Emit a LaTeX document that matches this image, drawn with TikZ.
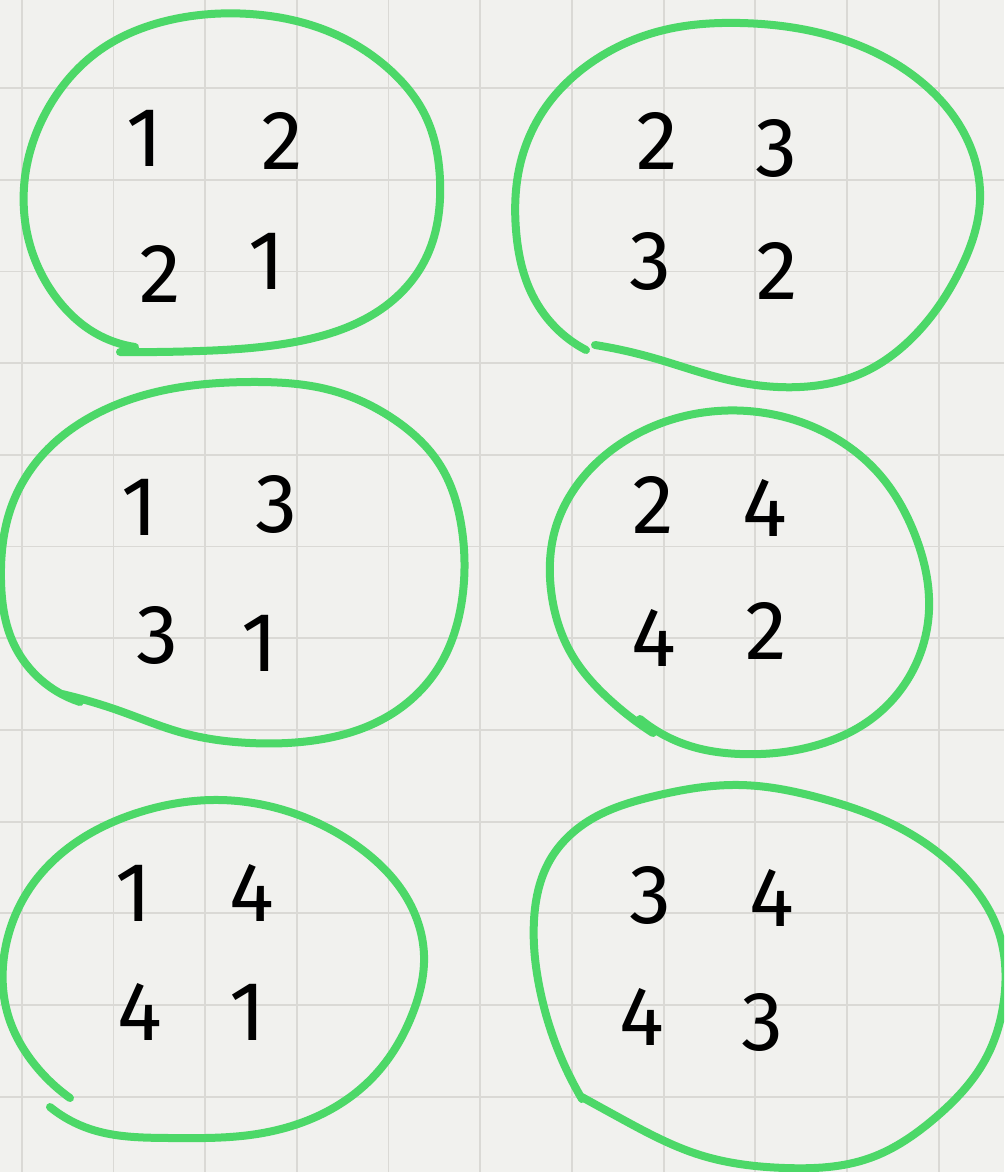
\documentclass[tikz,border=0pt]{standalone}
\usepackage{fontspec}
\setmainfont{Fira Sans}
\usetikzlibrary{hobby}
\definecolor{paper}{HTML}{F1F1EE}
\definecolor{gridc}{HTML}{DAD9D5}
\definecolor{loopg}{HTML}{4CD868}
\tikzset{
  loopline/.style={draw=loopg, line width=8pt, line cap=round, line join=round, use Hobby shortcut},
  digit/.style={text=black, inner sep=0pt, font=\fontsize{84}{84}\selectfont},
}
\begin{document}
\begin{tikzpicture}[x=1pt,y=-1pt]
\useasboundingbox (0,0) rectangle (1004,1172);
\clip (0,0) rectangle (1004,1172);
\fill[paper] (0,0) rectangle (1004,1172);
% grid
\foreach \k in {0,...,10} {\draw[gridc, line width=1.8pt] ({21.7+91.7*\k},0) -- ({21.7+91.7*\k},1172);}
\foreach \k in {0,...,11} {\draw[gridc, line width=1.8pt] (0,{88+91.7*\k}) -- (1004,{88+91.7*\k});}
% loops
\draw[loopline] (120,352) .. (200,351) .. (300,341) .. (380,310) .. (425,260) .. (440,180) .. (425,115) .. (390,70) .. (330,32) .. (250,14) .. (170,20) .. (100,50) .. (50,105) .. (26,170) .. (30,245) .. (58,300) .. (95,333) .. (135,347);
\draw[loopline] (595,345) .. (650,357) .. (733,381) .. (800,387) .. (860,374) .. (915,335) .. (960,270) .. (980,200) .. (965,135) .. (925,85) .. (850,42) .. (740,23) .. (660,31) .. (595,60) .. (548,104) .. (520,165) .. (516,230) .. (530,290) .. (555,327) .. (586,350);
\draw[loopline] (80,702) .. (40,679) .. (12,640) .. (1,580) .. (12,505) .. (45,452) .. (100,412) .. (170,389) .. (250,382) .. (330,390) .. (395,420) .. (440,465) .. (462,530) .. (462,600) .. (440,665) .. (390,715) .. (317,740) .. (250,743) .. (183,733) .. (120,711) .. (62,694);
\draw[loopline] (653,733) .. (610,700) .. (572,655) .. (551,590) .. (555,530) .. (585,475) .. (635,435) .. (700,413) .. (765,413) .. (830,435) .. (880,475) .. (915,535) .. (929,610) .. (912,672) .. (870,720) .. (810,747) .. (740,754) .. (690,746) .. (640,719);
\draw[loopline] (50,1107) .. (90,1129) .. (170,1138) .. (250,1135) .. (320,1115) .. (375,1075) .. (412,1015) .. (424,955) .. (405,895) .. (360,848) .. (290,812) .. (220,800) .. (140,812) .. (75,843) .. (30,888) .. (5,950) .. (8,1015) .. (35,1065) .. (70,1098);
\draw[loopline] (582,1099) .. (560,1055) .. (540,990) .. (534,920) .. (550,860) .. (590,820) .. (655,796) .. (740,785) .. (820,798) .. (900,828) .. (960,872) .. (998,930) .. (1004,1000) .. (985,1060) .. (935,1118) .. (870,1158) .. (785,1168) .. (700,1155) .. (620,1118) .. (580,1096);
% digits
\node[digit] (a11) at (145,138) {1};
\node[digit] (a12) at (282,141) {2};
\node[digit] (a21) at (160,274) {2};
\node[digit] (a22) at (267,261) {1};
\node[digit] (b11) at (657,141) {2};
\node[digit] (b12) at (776,148) {3};
\node[digit] (b21) at (650,261) {3};
\node[digit] (b22) at (777,271) {2};
\node[digit] (c11) at (140,507) {1};
\node[digit] (c12) at (276,504) {3};
\node[digit] (c21) at (157,635) {3};
\node[digit] (c22) at (260,643) {1};
\node[digit] (d11) at (653,505) {2};
\node[digit] (d12) at (765,508) {4};
\node[digit] (d21) at (654,638) {4};
\node[digit] (d22) at (766,631) {2};
\node[digit] (e11) at (134,893) {1};
\node[digit] (e12) at (252,893) {4};
\node[digit] (e21) at (140,1012) {4};
\node[digit] (e22) at (248,1012) {1};
\node[digit] (f11) at (650,895) {3};
\node[digit] (f12) at (772,898) {4};
\node[digit] (f21) at (642,1017) {4};
\node[digit] (f22) at (762,1022) {3};
\end{tikzpicture}
\end{document}
